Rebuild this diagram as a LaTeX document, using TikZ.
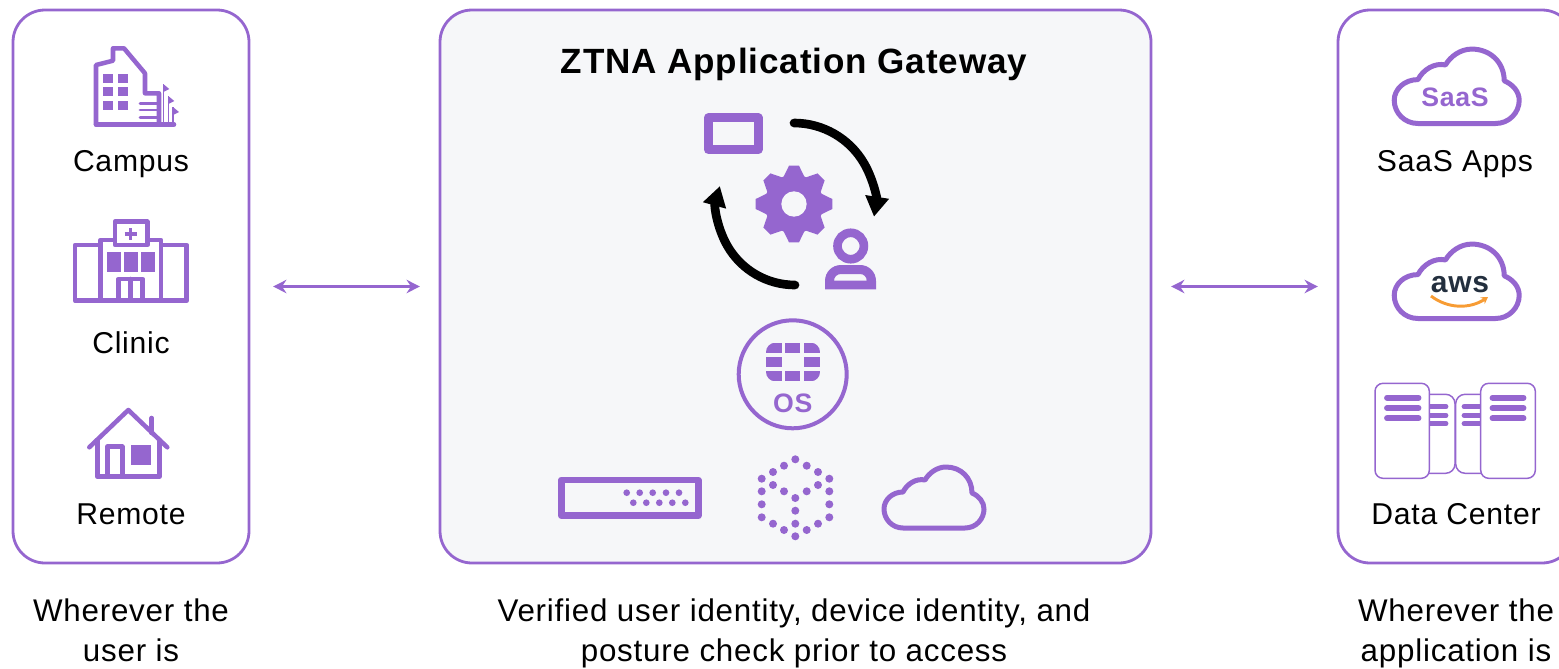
\documentclass[tikz,border=0pt]{standalone}
\usepackage{fontspec}
\setmainfont[LetterSpace=2.5]{Liberation Sans}
\usetikzlibrary{arrows.meta}
\definecolor{ztnaPurple}{HTML}{9566CF}
\definecolor{panelGrey}{HTML}{F6F7F9}
\definecolor{awsNavy}{HTML}{232F3E}
\definecolor{awsOrange}{HTML}{F79C34}
\tikzset{
    panel/.style={draw=ztnaPurple, line width=2.1pt, rounded corners=24pt, minimum height=414.75pt},
    iconLine/.style={draw=ztnaPurple, line width=3.4pt, line join=round, line cap=round},
    iconFill/.style={fill=ztnaPurple},
    labelText/.style={text=black, font=\fontsize{22.6}{30}\selectfont, anchor=base, align=center, inner sep=0pt},
    captionText/.style={labelText, font=\fontsize{23.5}{30}\selectfont},
    link/.style={draw=ztnaPurple, line width=1.6pt, {Stealth[length=10pt,width=10pt]}-{Stealth[length=10pt,width=10pt]}},
    cycleArrow/.style={line width=6.5pt, line cap=round, -{Triangle[length=15pt,width=17pt]}},
    cloudIcon/.pic={
        \draw[ztnaPurple, line width=3.75pt, line join=round]
            (-31,0) -- (31,0) .. controls (42,0) and (50,-9) .. (50,-19)
            .. controls (50,-26) and (45,-32) .. (38,-35)
            .. controls (38,-50) and (27,-61) .. (12,-61)
            .. controls (3,-61) and (-5,-55) .. (-9,-48)
            .. controls (-18,-50) and (-27,-44) .. (-31,-36)
            .. controls (-42,-36) and (-50,-28) .. (-50,-19)
            .. controls (-50,-9) and (-42,0) .. (-31,0) -- cycle;
    }
}
\begin{document}
\begin{tikzpicture}[x=0.75pt, y=-0.75pt]
    \path[clip, use as bounding box] (0,0) rectangle (1559,668);

    % Panels
    \node[panel, minimum width=177pt] (userBox) at (131,286.5) {};
    \node[panel, minimum width=533.25pt, fill=panelGrey] (gatewayBox) at (795.5,286.5) {};
    \node[panel, minimum width=177pt] (appBox) at (1456,286.5) {};

    % Links between panels
    \draw[link, shorten <=17pt, shorten >=14pt] (userBox.east) -- (gatewayBox.west);
    \draw[link, shorten <=14pt, shorten >=14pt] (gatewayBox.east) -- (appBox.west);

    % Campus
    \draw[iconLine] (96,124.5) -- (96,65) -- (113,60.7) -- (113,48.3) -- (124,48.3) -- (145,73.3) -- (145,93.3) -- (159,93.3) -- (159,124.5);
    \draw[iconLine] (96,124.5) -- (174,124.5);
    \foreach \x in {103.3,118.3}
        \foreach \y in {74,87.3,101}
            \fill[iconFill] (\x,\y) rectangle ++(10,8.8);
    \foreach \y in {103.3,110,117.3}
        \draw[ztnaPurple, line width=2.2pt, line cap=round] (140,\y) -- (158,\y);
    \foreach \x/\y in {163.3/84,168.3/96,173/107}{
        \draw[ztnaPurple, line width=1.2pt] (\x,\y) -- (\x,124.5);
        \fill[iconFill] (\x,\y) -- (\x+6,\y+5) -- (\x,\y+8) -- cycle;
    }
    \node[labelText] (campusLabel) at (131,171) {Campus};

    % Clinic
    \draw[iconLine] (75,245) rectangle (100.7,300.7);
    \draw[iconLine] (161,245) rectangle (186.7,300.7);
    \draw[iconLine] (100.7,240) rectangle (161,300.7);
    \draw[iconLine, fill=white] (115,221.7) rectangle (147.3,245);
    \draw[ztnaPurple, line width=2.6pt] (124.7,234) -- (136.7,234) (130.7,228) -- (130.7,240);
    \foreach \x in {107.3,124.3,141.3}
        \fill[iconFill] (\x,252) rectangle ++(13.7,20);
    \draw[iconLine] (118.3,300) -- (118.3,279) -- (142.7,279) -- (142.7,300);
    \draw[iconLine] (130.7,279) -- (130.7,300);
    \node[labelText] (clinicLabel) at (131,353) {Clinic};

    % Remote
    \draw[iconLine] (89.3,447.3) -- (128.3,410) -- (167.3,447.3);
    \draw[iconLine] (97.3,440) -- (97.3,476.7) -- (159.3,476.7) -- (159.3,440);
    \draw[iconLine] (107.3,476.7) -- (107.3,446.7) -- (122.3,446.7) -- (122.3,476.7);
    \fill[iconFill] (131,445) rectangle (151,465);
    \draw[iconLine] (151.7,418) -- (151.7,433);
    \node[labelText] (remoteLabel) at (131,524) {Remote};

    % Title
    \node[labelText, font=\fontsize{26.3}{32}\bfseries] (gatewayTitle) at (794,73) {ZTNA Application Gateway};

    % Device, gear and user with the two round arrows
    \draw[ztnaPurple, line width=6.5pt, line join=round] (708.3,117.7) rectangle (758.3,149.7);
    \draw[cycleArrow] (794,123) arc (-90:9:81);
    \draw[cycleArrow] (795,285) arc (90:195.5:78);
    \begin{scope}[shift={(794,204)}]
        \foreach \a in {0,45,...,315}
            \fill[iconFill, rotate=\a] (-11,-26) -- (-5,-38.3) -- (5,-38.3) -- (11,-26) -- cycle;
        \fill[iconFill] (0,0) circle (22pt);
        \fill[panelGrey] (0,0) circle (9.5pt);
    \end{scope}
    \draw[ztnaPurple, line width=6.5pt] (850.7,246) circle (9.9pt);
    \fill[iconFill, even odd rule] (825,289.3) -- (825,281) .. controls (825,272) and (832,265) .. (841,265) -- (860,265)
        .. controls (869,265) and (876,272) .. (876,281) -- (876,289.3) -- cycle
        (834,280.7) .. controls (834,277) and (837,274) .. (841,274) -- (860,274)
        .. controls (864,274) and (866.7,277) .. (866.7,280.7) -- cycle;

    % OS badge
    \draw[ztnaPurple, line width=3pt] (792.7,374.3) circle (40.5pt);
    \begin{scope}
        \clip[rounded corners=7pt] (766,342.7) rectangle (820,381.3);
        \foreach \x/\w in {766/15.7,785/15,804.3/15.7}{
            \fill[iconFill] (\x,342.7) rectangle ++(\w,10.6);
            \fill[iconFill] (\x,371) rectangle ++(\w,10.3);
        }
        \foreach \x in {766,804.3}
            \fill[iconFill] (\x,357) rectangle ++(15.7,10.3);
    \end{scope}
    \node[text=ztnaPurple, font=\fontsize{20}{24}\bfseries, inner sep=0pt] (osLabel) at (792.7,403) {OS};

    % Appliance
    \draw[ztnaPurple, line width=5pt, line join=round] (561.3,480) rectangle (698.3,515.7);
    \foreach \x in {626.7,639.7,652.7,666,679}
        \fill[iconFill] (\x,492.7) circle (2.5pt);
    \foreach \x in {633.3,646.3,659.3,672.3,685.3}
        \fill[iconFill] (\x,502.7) circle (2.5pt);

    % Dotted cube
    \foreach \x/\y in {795.3/459.3,784/465.7,806.7/465.7,773/472,818/472,761.7/478.7,829.3/478.7,
        773/485,818/485,761.7/491.3,784/491.3,806.7/491.3,829.3/491.3,795.3/498,761.7/504.3,829.3/504.3,
        795.3/510.7,761.7/517.3,829.3/517.3,773/523.7,795.3/523.7,818/523.7,784/530,806.7/530,795.3/536.3}
        \fill[iconFill] (\x,\y) circle (3pt);

    % Clouds
    \pic at (934,528) {cloudIcon};
    \pic[xscale=1.25, yscale=1.22] at (1456.7,123.5) {cloudIcon};
    \pic[xscale=1.25, yscale=1.22] at (1456.7,318.5) {cloudIcon};
    \node[text=ztnaPurple, font=\fontsize{20}{24}\bfseries, inner sep=0pt] (saasMark) at (1455,97.3) {SaaS};
    \node[text=awsNavy, font=\fontsize{22.5}{28}\bfseries, inner sep=0pt, anchor=base] (awsMark) at (1460,292) {aws};
    \draw[awsOrange, line width=2.2pt, -{Stealth[length=5pt,width=6pt]}] (1431,296) .. controls (1448,309) and (1470,309) .. (1488,297);
    \node[labelText] (saasLabel) at (1455,171) {SaaS Apps};

    % Servers
    \draw[ztnaPurple, line width=1.1pt, fill=white, rounded corners=7pt] (1405,394.3) rectangle (1455,473.3);
    \draw[ztnaPurple, line width=1.1pt, fill=white, rounded corners=7pt] (1455.7,394.3) rectangle (1505,473.3);
    \foreach \y in {406.7,415.3,423.7}{
        \draw[ztnaPurple, line width=3.6pt, line cap=round] (1425,\y) -- (1446,\y);
        \draw[ztnaPurple, line width=3.6pt, line cap=round] (1464,\y) -- (1485,\y);
    }
    \draw[ztnaPurple, line width=1.1pt, fill=white, rounded corners=6pt] (1375,383.3) rectangle (1429.3,478.3);
    \draw[ztnaPurple, line width=1.1pt, fill=white, rounded corners=6pt] (1480.7,383.3) rectangle (1535.3,478.3);
    \foreach \y in {397.7,408,418.3}{
        \draw[ztnaPurple, line width=4.4pt, line cap=round] (1387,\y) -- (1418.5,\y);
        \draw[ztnaPurple, line width=4.4pt, line cap=round] (1492.5,\y) -- (1523.5,\y);
    }
    \node[labelText] (dataLabel) at (1456,524) {Data Center};

    % Captions under the panels
    \node[captionText] (userCaption) at (131,661) {Wherever the\\user is};
    \node[captionText] (gatewayCaption) at (794,661) {Verified user identity, device identity, and\\posture check prior to access};
    \node[captionText] (appCaption) at (1456,661) {Wherever the\\application is};
\end{tikzpicture}
\end{document}
